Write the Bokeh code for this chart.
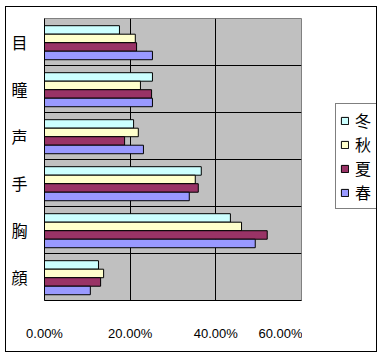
from bokeh.plotting import figure
from bokeh.layouts import row
from bokeh.models import (FactorRange, Range1d, FixedTicker, NumeralTickFormatter,
                          Legend, LegendItem, ColumnDataSource)
from bokeh.transform import dodge
from bokeh.embed import file_html
from bokeh.resources import INLINE

# ---- data ----
categories = ["目", "瞳", "声", "手", "胸", "顔"]
series_names = ["冬", "秋", "夏", "春"]
winter = [0.175, 0.252, 0.208, 0.366, 0.434, 0.126]
autumn = [0.212, 0.224, 0.219, 0.352, 0.460, 0.138]
summer = [0.215, 0.250, 0.187, 0.359, 0.520, 0.131]
spring = [0.252, 0.252, 0.231, 0.338, 0.492, 0.107]
x_ticks = [0.0, 0.2, 0.4, 0.6]

# ---- styles ----
colors = ["#CCFFFF", "#FFFFCC", "#993366", "#9999FF"]
bar_h = 0.181
offsets = [(1.5 - i) * bar_h - 0.015 for i in range(4)]

source = ColumnDataSource(dict(cat=categories, 冬=winter, 秋=autumn, 夏=summer, 春=spring))

p = figure(y_range=FactorRange(factors=categories[::-1], range_padding=0),
           x_range=Range1d(0, 0.6),
           width=296, height=344, output_backend="svg", toolbar_location=None,
           min_border_left=38, min_border_right=1, min_border_top=11, min_border_bottom=51)
p.background_fill_color = "#C0C0C0"
p.border_fill_color = "white"
p.outline_line_color = "#808080"

for name, col, off in zip(series_names, colors, offsets):
    p.hbar(y=dodge("cat", off, range=p.y_range), right=name, left=0, height=bar_h,
           source=source, fill_color=col, line_color="black", line_width=1)

p.xaxis.ticker = FixedTicker(ticks=x_ticks)
p.xaxis.formatter = NumeralTickFormatter(format="0.00%")
p.xgrid.ticker = FixedTicker(ticks=x_ticks)
p.xgrid.grid_line_color = "black"
p.ygrid.ticker = FixedTicker(ticks=list(range(len(categories) + 1)))
p.ygrid.grid_line_color = "black"

for ax in (p.xaxis, p.yaxis):
    ax.axis_line_color = "black"
    ax.major_tick_line_color = None
    ax.minor_tick_line_color = None
    ax.major_label_text_color = "black"

p.xaxis.major_label_text_font = "Liberation Sans"
p.xaxis.major_label_text_font_size = "13px"
p.xaxis.major_label_standoff = 19
p.yaxis.major_label_text_font = "Noto Sans CJK JP"
p.yaxis.major_label_text_font_size = "16px"
p.yaxis.major_label_standoff = 11

# legend panel (its bars lie outside its visible range; only the legend shows)
lp = figure(width=74, height=344, output_backend="svg", toolbar_location=None,
            x_range=Range1d(-2, -1), y_range=FactorRange(factors=categories),
            x_axis_location=None, y_axis_location=None,
            min_border_left=0, min_border_right=0, min_border_top=0, min_border_bottom=0)
lp.grid.visible = False
lp.outline_line_color = None
lp.background_fill_color = "white"
lp.border_fill_color = "white"

items = []
for name, col in zip(series_names, colors):
    r = lp.hbar(y="cat", right=name, left=0, height=0.2, source=source, fill_color=col,
                line_color="black", line_width=1)
    items.append(LegendItem(label=name, renderers=[r]))

legend = Legend(items=items, location=(33, 91), border_line_color="black",
                border_line_width=1, background_fill_color="white", background_fill_alpha=1,
                glyph_width=9, glyph_height=9, label_standoff=6, padding=4, spacing=-4,
                label_height=16, margin=0,
                label_text_font="Noto Sans CJK JP", label_text_font_size="16px",
                label_text_color="black")
lp.add_layout(legend, "center")

layout = row(p, lp, margin=(6, 0, 0, 5), styles={"border": "1px solid black"})

open("out.html", "w").write(file_html(layout, INLINE))
